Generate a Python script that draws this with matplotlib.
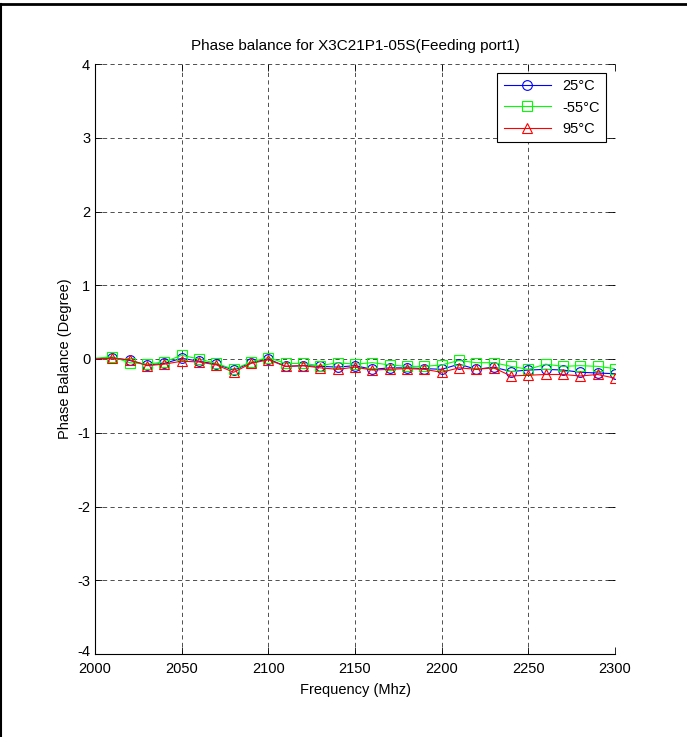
import matplotlib
matplotlib.use("Agg")
import matplotlib.pyplot as plt
import matplotlib.transforms as mtransforms
from matplotlib.lines import Line2D

plt.rcParams['font.family'] = ['Liberation Sans', 'DejaVu Sans']
plt.rcParams['axes.unicode_minus'] = False

# frequenze (MHz) e bilanciamento di fase (gradi)
freq = [2000, 2010, 2020, 2030, 2040, 2050, 2060, 2070, 2080, 2090, 2100,
        2110, 2120, 2130, 2140, 2150, 2160, 2170, 2180, 2190, 2200,
        2210, 2220, 2230, 2240, 2250, 2260, 2270, 2280, 2290, 2300]

fase_25 = [0.00, 0.02, -0.02, -0.08, -0.06, 0.01, -0.03, -0.07, -0.15, -0.05, 0.00,
           -0.10, -0.09, -0.10, -0.11, -0.09, -0.14, -0.12, -0.12, -0.13, -0.14,
           -0.07, -0.14, -0.11, -0.17, -0.15, -0.14, -0.15, -0.18, -0.19, -0.20]
fase_m55 = [0.01, 0.03, -0.05, -0.07, -0.04, 0.05, 0.00, -0.06, -0.14, -0.04, 0.02,
            -0.06, -0.06, -0.09, -0.05, -0.07, -0.05, -0.08, -0.10, -0.10, -0.08,
            -0.02, -0.05, -0.05, -0.10, -0.14, -0.07, -0.10, -0.09, -0.10, -0.13]
fase_95 = [0.00, 0.01, -0.01, -0.09, -0.07, -0.03, -0.04, -0.08, -0.18, -0.06, -0.01,
           -0.10, -0.09, -0.12, -0.14, -0.11, -0.15, -0.14, -0.13, -0.14, -0.18,
           -0.12, -0.14, -0.12, -0.23, -0.22, -0.21, -0.21, -0.23, -0.21, -0.26]

etichette = ['25°C', '-55°C', '95°C']

fig = plt.figure(figsize=(6.87, 7.37), dpi=100)
ax = fig.add_axes([95 / 687, 1 - 654 / 737, 520 / 687, 590 / 737])

stile = dict(linewidth=0.8, markersize=7, markerfacecolor='none',
             markeredgewidth=0.8, markevery=slice(1, None))
ax.plot(freq, fase_25, color='b', marker='o', label=etichette[0], **stile)
ax.plot(freq, fase_m55, color='#00ff00', marker='s', label=etichette[1], **stile)
ax.plot(freq, fase_95, color='r', marker='^', label=etichette[2], **stile)

ax.set_xlim(2000, 2300)
ax.set_ylim(-4, 4)
ax.set_xticks(range(2000, 2301, 50))
ax.set_yticks(range(-4, 5))

ax.grid(True, color='0.2', linestyle=(0, (5, 4)), linewidth=0.6)
ax.spines['top'].set_visible(False)
ax.spines['right'].set_visible(False)
ax.tick_params(direction='in', length=5, width=0.6, top=True, right=True,
               labelsize=10.5)
ax.tick_params(axis='x', pad=6)

# sposta un po' in alto l'etichetta -4 come nell'originale
sposta = mtransforms.ScaledTranslation(0, 4 / 100, fig.dpi_scale_trans)
ax.get_yticklabels()[0].set_transform(ax.get_yticklabels()[0].get_transform() + sposta)

ax.set_title('Phase balance for X3C21P1-05S(Feeding port1)', fontsize=11, pad=10)
ax.set_xlabel('Frequency (Mhz)', fontsize=10.5, labelpad=5)
ax.set_ylabel('Phase Balance (Degree)', fontsize=10.5, labelpad=4)

leg = ax.legend(loc='upper right', fontsize=10.5, fancybox=False,
                edgecolor='black', framealpha=1, borderaxespad=0.6,
                handlelength=3.2, labelspacing=0.5, borderpad=0.45)
leg.get_frame().set_linewidth(0.8)

# cornice della pagina (alto e sinistra)
fig.add_artist(Line2D([0, 1], [1 - 4 / 737, 1 - 4 / 737], color='black', linewidth=2,
                      transform=fig.transFigure))
fig.add_artist(Line2D([1 / 687, 1 / 687], [0, 1 - 4 / 737], color='black', linewidth=1.5,
                      transform=fig.transFigure))

fig.savefig('out.png', dpi=100)
